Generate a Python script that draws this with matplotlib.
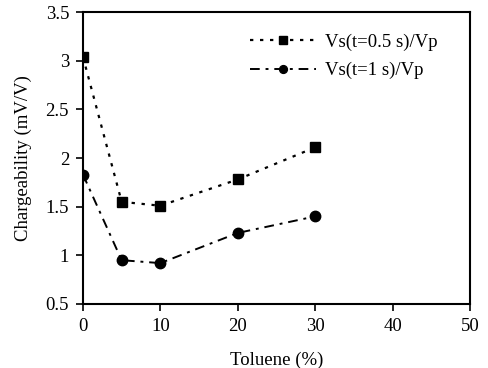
import matplotlib
matplotlib.use("Agg")
import matplotlib.pyplot as plt

toluene = [0, 5, 10, 20, 30]
vs_05 = [3.04, 1.55, 1.51, 1.78, 2.11]
vs_1 = [1.83, 0.95, 0.92, 1.23, 1.40]
labels = ["Vs(t=0.5 s)/Vp", "Vs(t=1 s)/Vp"]

plt.rcParams['font.family'] = ['Liberation Serif', 'DejaVu Serif']
fig = plt.figure(figsize=(4.88, 3.68), dpi=100)
ax = fig.add_axes([0.170, 0.174, 0.793, 0.793])

ax.plot(toluene, vs_05, color='black', linestyle=(0, (1.5, 3)), linewidth=1.6,
        marker='s', markersize=7, label=labels[0])
ax.plot(toluene, vs_1, color='black', linestyle=(0, (5, 3, 1.5, 3)), linewidth=1.4,
        marker='o', markersize=7.5, label=labels[1])

ax.set_xlim(0, 50)
ax.set_ylim(0.5, 3.5)
ax.set_xticks([0, 10, 20, 30, 40, 50])
ax.set_yticks([0.5, 1, 1.5, 2, 2.5, 3, 3.5])
ax.set_yticklabels(['0.5', '1', '1.5', '2', '2.5', '3', '3.5'])
ax.tick_params(direction='out', length=5, width=1.2, labelsize=13.5, colors='black', pad=5)
for s in ax.spines.values():
    s.set_linewidth(1.5)
ax.set_xlabel('Toluene (%)', fontsize=13.5, labelpad=12)
ax.set_ylabel('Chargeability (mV/V)', fontsize=13.5, labelpad=10)
ax.legend(loc='upper right', frameon=False, fontsize=13.5, handlelength=3.5,
          markerscale=0.75, bbox_to_anchor=(0.96, 0.985), labelspacing=0.6,
          handletextpad=0.5)

fig.savefig('out.png', dpi=100)
